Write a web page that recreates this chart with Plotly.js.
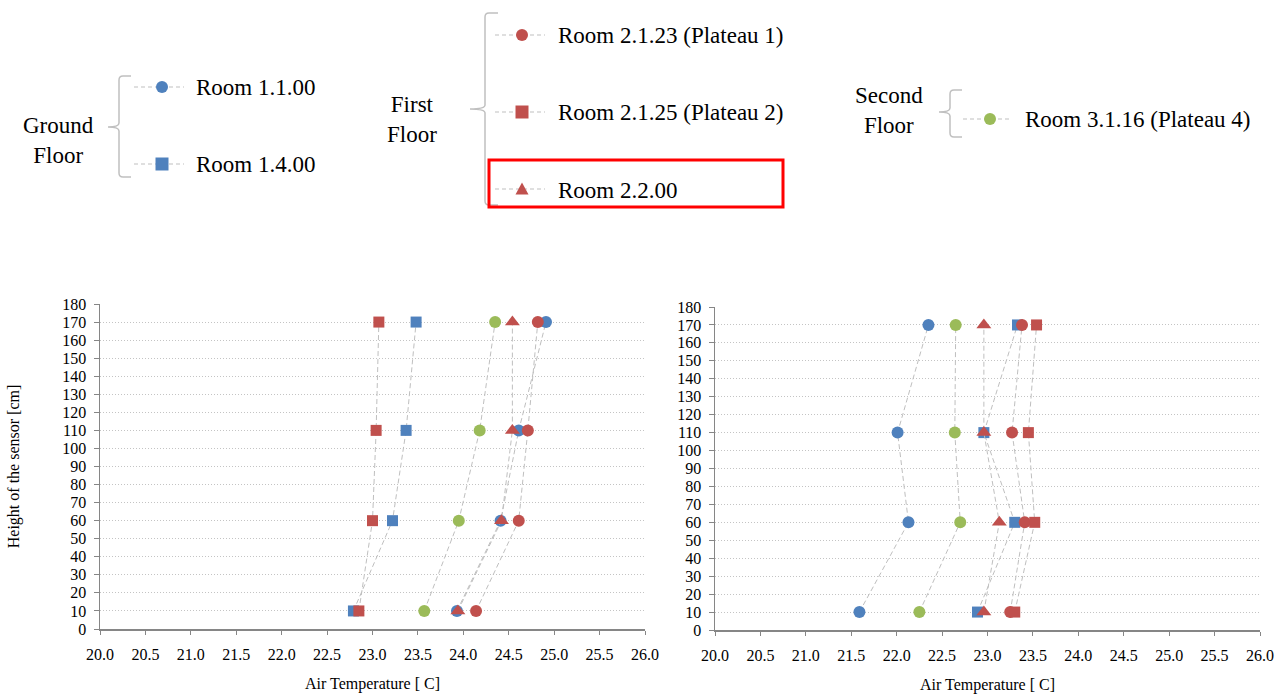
<!DOCTYPE html>
<html>
<head>
<meta charset="utf-8">
<script src="https://cdn.plot.ly/plotly-3.0.1.min.js"></script>
<style>html,body{margin:0;padding:0;background:#fff;}#chart{width:1287px;height:697px;}</style>
</head>
<body>
<div id="chart"></div>
<script>
// ---------------- DATA ----------------
const heights = [10, 60, 110, 170];
const roomNames = ["Room 1.1.00", "Room 1.4.00", "Room 2.1.23 (Plateau 1)", "Room 2.1.25 (Plateau 2)", "Room 2.2.00", "Room 3.1.16 (Plateau 4)"];
// left chart (air temperature, °C, at heights 10/60/110/170 cm)
const left_1_1_00 = [23.93, 24.41, 24.61, 24.91];
const left_1_4_00 = [22.79, 23.22, 23.37, 23.48];
const left_2_1_23 = [24.14, 24.61, 24.71, 24.82];
const left_2_1_25 = [22.85, 23.00, 23.04, 23.07];
const left_2_2_00 = [23.94, 24.42, 24.54, 24.54];
const left_3_1_16 = [23.57, 23.95, 24.18, 24.35];
// right chart
const right_1_1_00 = [21.59, 22.13, 22.01, 22.35];
const right_1_4_00 = [22.89, 23.30, 22.96, 23.33];
const right_2_1_23 = [23.25, 23.41, 23.27, 23.38];
const right_2_1_25 = [23.30, 23.52, 23.45, 23.54];
const right_2_2_00 = [22.96, 23.13, 22.96, 22.96];
const right_3_1_16 = [22.25, 22.70, 22.64, 22.65];
const xTickVals = [20.0, 20.5, 21.0, 21.5, 22.0, 22.5, 23.0, 23.5, 24.0, 24.5, 25.0, 25.5, 26.0];
const yTickVals = [0,10,20,30,40,50,60,70,80,90,100,110,120,130,140,150,160,170,180];
const xTitle = "Air Temperature [ C]";
const yTitle = "Height of the sensor [cm]";

// ---------------- STYLE ----------------
const BLUE = "#4F81BD", RED = "#C0504D", GREEN = "#9BBB59";
const styles = [
  {color: BLUE, symbol: "circle", size: 12},
  {color: BLUE, symbol: "square", size: 11},
  {color: RED, symbol: "circle", size: 12},
  {color: RED, symbol: "square", size: 11},
  {color: RED, symbol: "triangle-up", size: 13},
  {color: GREEN, symbol: "circle", size: 12}
];
const leftSeries = [left_1_1_00, left_1_4_00, left_2_1_23, left_2_1_25, left_2_2_00, left_3_1_16];
const rightSeries = [right_1_1_00, right_1_4_00, right_2_1_23, right_2_1_25, right_2_2_00, right_3_1_16];

const FONT = "Liberation Serif";
const W = 1287, H = 697;
const px = x => x / W;
const py = y => 1 - y / H;

const traces = [];
function addSeries(seriesList, xa, ya) {
  seriesList.forEach((vals, i) => {
    traces.push({
      x: vals, y: heights, xaxis: xa, yaxis: ya, type: "scatter", mode: "lines+markers",
      name: roomNames[i], showlegend: false, hoverinfo: "x+y+name",
      line: {color: "#bfbfbf", width: 1, dash: "5px,3px"},
      marker: {color: styles[i].color, symbol: styles[i].symbol, size: styles[i].size, line: {width: 0}}
    });
  });
}
addSeries(leftSeries, "x", "y");
addSeries(rightSeries, "x2", "y2");

function xAxis(domain, anchor) {
  return {
    domain: domain, anchor: anchor, range: [20, 26], tickvals: xTickVals, tickformat: ".1f",
    showgrid: false, zeroline: false, showline: true, linecolor: "#868686", linewidth: 1.5,
    ticks: "outside", ticklen: 4, tickcolor: "#868686", ticklabelstandoff: 6,
    tickfont: {family: FONT, size: 16, color: "#000"},
    title: {text: xTitle, font: {family: FONT, size: 16, color: "#000"}, standoff: 16},
    fixedrange: true
  };
}
function yAxis(domain, anchor, withTitle) {
  const a = {
    domain: domain, anchor: anchor, range: [0, 180], tickvals: yTickVals,
    showgrid: true, gridcolor: "#c4c4c4", griddash: "1px,2px", gridwidth: 1,
    zeroline: false, showline: true, linecolor: "#868686", linewidth: 1.5,
    ticks: "outside", ticklen: 5, tickcolor: "#868686", ticklabelstandoff: 4,
    tickfont: {family: FONT, size: 16, color: "#000"}, fixedrange: true
  };
  if (withTitle) a.title = {text: yTitle, font: {family: FONT, size: 16, color: "#000"}, standoff: 38};
  return a;
}

// ---------------- LEGEND (custom, drawn with shapes/annotations) ----------------
const shapes = [];
const annotations = [];
const GRAY = "#c0c0c0";
function brace(xTip, xLine, xEnd, yTop, yMid, yBot) {
  const p = (x, y) => px(x) + "," + py(y);
  const r = 4;
  const d = "M" + p(xEnd, yTop) + " L" + p(xLine + r, yTop) + " Q" + p(xLine, yTop) + " " + p(xLine, yTop + r) +
    " L" + p(xLine, yMid - r) + " Q" + p(xLine, yMid) + " " + p(xTip, yMid) +
    " Q" + p(xLine, yMid) + " " + p(xLine, yMid + r) +
    " L" + p(xLine, yBot - r) + " Q" + p(xLine, yBot) + " " + p(xLine + r, yBot) + " L" + p(xEnd, yBot);
  shapes.push({type: "path", xref: "paper", yref: "paper", path: d, line: {color: GRAY, width: 1.5}});
}
function legendItem(idx, xl, xr, xm, y, xText) {
  shapes.push({type: "line", xref: "paper", yref: "paper", x0: px(xl), x1: px(xr), y0: py(y), y1: py(y),
    line: {color: GRAY, width: 1.2, dash: "4px,3px"}});
  const s = styles[idx];
  if (s.symbol === "circle") {
    shapes.push({type: "circle", xref: "paper", yref: "paper", x0: px(xm - 6), x1: px(xm + 6), y0: py(y + 6), y1: py(y - 6),
      fillcolor: s.color, line: {width: 0}});
  } else if (s.symbol === "square") {
    shapes.push({type: "rect", xref: "paper", yref: "paper", x0: px(xm - 6.5), x1: px(xm + 6.5), y0: py(y + 6.5), y1: py(y - 6.5),
      fillcolor: s.color, line: {width: 0}});
  } else {
    const d = "M" + px(xm - 6.5) + "," + py(y + 5.5) + " L" + px(xm + 6.5) + "," + py(y + 5.5) + " L" + px(xm) + "," + py(y - 6.5) + " Z";
    shapes.push({type: "path", xref: "paper", yref: "paper", path: d, fillcolor: s.color, line: {width: 0}});
  }
  annotations.push({xref: "paper", yref: "paper", x: px(xText), y: py(y + 1), xanchor: "left", yanchor: "middle",
    text: roomNames[idx], showarrow: false, font: {family: FONT, size: 23, color: "#000"}});
}
function groupLabel(text, x, y) {
  annotations.push({xref: "paper", yref: "paper", x: px(x), y: py(y), xanchor: "center", yanchor: "middle",
    text: text, showarrow: false, align: "center", font: {family: FONT, size: 23, color: "#000"}});
}
// Ground floor
groupLabel("Ground<br>Floor", 58, 141);
brace(108, 119, 131, 76, 127, 177);
legendItem(0, 134, 184, 162, 87, 194);
legendItem(1, 134, 184, 162, 164, 194);
// First floor
groupLabel("First<br>Floor", 412, 119);
brace(470, 485, 498, 13, 109, 205);
legendItem(2, 495, 545, 522, 35, 556);
legendItem(3, 495, 545, 522, 112, 556);
legendItem(4, 495, 545, 522, 189, 556);
shapes.push({type: "rect", xref: "paper", yref: "paper", x0: px(489), x1: px(783), y0: py(207), y1: py(160),
  line: {color: "#ff0000", width: 3}, fillcolor: "rgba(0,0,0,0)"});
// Second floor
groupLabel("Second<br>Floor", 889, 111);
brace(939, 950, 962, 90, 112, 137);
legendItem(5, 963, 1012, 990, 119, 1023);

const layout = {
  width: W, height: H, margin: {l: 0, r: 0, t: 0, b: 0},
  paper_bgcolor: "#fff", plot_bgcolor: "#fff", showlegend: false,
  xaxis: xAxis([px(100), px(645)], "y"),
  yaxis: yAxis([py(629), py(304)], "x", true),
  xaxis2: xAxis([px(715), px(1260)], "y2"),
  yaxis2: yAxis([py(630), py(307)], "x2", false),
  shapes: shapes, annotations: annotations
};

Plotly.newPlot("chart", traces, layout, {displayModeBar: false, staticPlot: true});
</script>
</body>
</html>
